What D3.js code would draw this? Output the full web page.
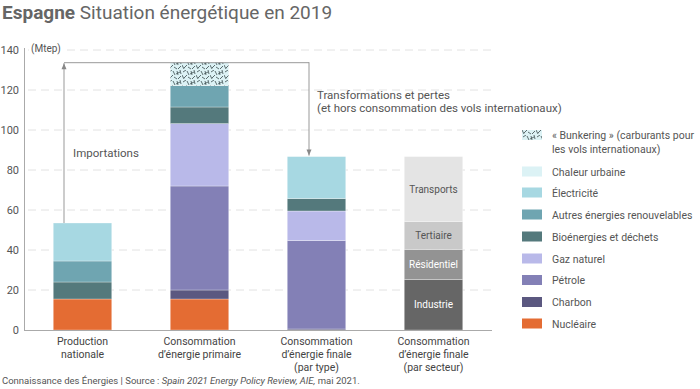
<!DOCTYPE html>
<html>
<head>
<meta charset="utf-8">
<script src="https://cdn.jsdelivr.net/npm/d3@7"></script>
<style>
  body { margin: 0; background: #fff; }
  svg text { font-family: Roboto, "Open Sans", sans-serif; }
</style>
</head>
<body>
<div id="chart"></div>
<script>
// bars (Mtep)
var categories = ["prod", "prim", "finType", "finSect"]
var catLabels = [
  ["Production", "nationale"],
  ["Consommation", "d\u2019\u00e9nergie primaire"],
  ["Consommation", "d\u2019\u00e9nergie finale", "(par type)"],
  ["Consommation", "d\u2019\u00e9nergie finale", "(par secteur)"]
]
var nucleaire   = [15.5, 15.5, 0, 0]
var charbon     = [0, 4.5, 0.5, 0]
var petrole     = [0, 52, 44.2, 0]
var gaz         = [0, 31.2, 14.8, 0]
var bio         = [8.5, 8.3, 6.2, 0]
var autres      = [10.5, 10.7, 0, 0]
var electricite = [19, 0, 21, 0]
var chaleur     = [0, 0, 0, 0]
var bunkering   = [0, 11.7, 0, 0]
var industrie   = [0, 0, 0, 25.3]
var residentiel = [0, 0, 0, 15]
var tertiaire   = [0, 0, 0, 13.9]
var transports  = [0, 0, 0, 32.5]

var yTicks = [0, 20, 40, 60, 80, 100, 120, 140]

var keys = ["nucleaire","charbon","petrole","gaz","bio","autres","electricite","chaleur","bunkering",
            "industrie","residentiel","tertiaire","transports"]
var series = {nucleaire:nucleaire, charbon:charbon, petrole:petrole, gaz:gaz, bio:bio, autres:autres,
  electricite:electricite, chaleur:chaleur, bunkering:bunkering, industrie:industrie,
  residentiel:residentiel, tertiaire:tertiaire, transports:transports}
var colors = {
  nucleaire: "#e46c33", charbon: "#5b5880", petrole: "#8380b6", gaz: "#b9b9e9",
  bio: "#54797c", autres: "#6fa5b1", electricite: "#a7d8e2", chaleur: "#dcf2f5",
  bunkering: "url(#hatch)", industrie: "#666666", residentiel: "#939393",
  tertiaire: "#c9c9c9", transports: "#e4e4e4"
}
var sectorNames = {industrie: "Industrie", residentiel: "R\u00e9sidentiel", tertiaire: "Tertiaire", transports: "Transports"}
var legendItems = [
  ["bunkering", ["\u00ab Bunkering \u00bb (carburants pour", "les vols internationaux)"]],
  ["chaleur", ["Chaleur urbaine"]],
  ["electricite", ["\u00c9lectricit\u00e9"]],
  ["autres", ["Autres \u00e9nergies renouvelables"]],
  ["bio", ["Bio\u00e9nergies et d\u00e9chets"]],
  ["gaz", ["Gaz naturel"]],
  ["petrole", ["P\u00e9trole"]],
  ["charbon", ["Charbon"]],
  ["nucleaire", ["Nucl\u00e9aire"]]
]

var width = 700, height = 389

var svg = d3.select("#chart").append("svg")
  .attr("width", width).attr("height", height)

// hatch pattern for bunkering
var defs = svg.append("defs")
var pat = defs.append("pattern").attr("id", "hatch")
  .attr("patternUnits", "userSpaceOnUse").attr("width", 14).attr("height", 10)
pat.append("rect").attr("width", 14).attr("height", 10).attr("fill", "#dcf2f5")
var strokes = [[1,2,4,0],[5,1,7,5],[8,4,12,2],[2,8,5,5],[10,9,13,6],[9,1,10,5],[0,5,2,9],[6,7,9,9],[12,0,13,4]]
strokes.forEach(function(s){
  pat.append("line").attr("x1", s[0]).attr("y1", s[1]).attr("x2", s[2]).attr("y2", s[3])
    .attr("stroke", "#3a4a4c").attr("stroke-width", 0.8)
})

var x = d3.scaleBand().domain(categories).range([24, 492]).paddingInner(0.5).paddingOuter(0.25)
var y = d3.scaleLinear().domain([0, 140]).range([330, 50])

// title
var title = svg.append("text").attr("x", 2).attr("y", 19).attr("fill", "#666").style("font-size", "19px")
title.append("tspan").attr("font-weight", "bold").text("Espagne")
title.append("tspan").text(" Situation \u00e9nerg\u00e9tique en 2019")

// grid
svg.append("g").selectAll("line").data(yTicks.filter(function(d){ return d > 0 }))
  .enter().append("line")
  .attr("x1", 28).attr("x2", 492)
  .attr("y1", function(d){ return y(d) }).attr("y2", function(d){ return y(d) })
  .attr("stroke", "#e2e2e2").attr("stroke-dasharray", "8,5")

// y labels
svg.append("g").selectAll("text").data(yTicks).enter().append("text")
  .attr("x", 19).attr("y", function(d){ return y(d) + 4 })
  .attr("text-anchor", "end").attr("fill", "#555").style("font-size", "11px")
  .text(function(d){ return d })
svg.append("rect").attr("x", 29).attr("y", 42).attr("width", 34).attr("height", 14).attr("fill", "#fff")
svg.append("text").attr("x", 31).attr("y", 52).attr("fill", "#555").style("font-size", "10px").text("(Mtep)")

// stacked bars
var table = categories.map(function(c, i){
  var row = {cat: c}
  keys.forEach(function(k){ row[k] = series[k][i] })
  return row
})
var stacked = d3.stack().keys(keys)(table)

var layers = svg.append("g").selectAll("g").data(stacked).enter().append("g")
  .attr("fill", function(d){ return colors[d.key] })
layers.selectAll("rect").data(function(d){ return d.filter(function(p){ return p[1] - p[0] > 0 }) })
  .enter().append("rect")
  .attr("x", function(d){ return x(d.data.cat) })
  .attr("width", x.bandwidth())
  .attr("y", function(d){ return y(d[1]) })
  .attr("height", function(d){ return y(d[0]) - y(d[1]) })
  .attr("stroke", "#fff").attr("stroke-opacity", 0.5).attr("stroke-width", 0.6)

// sector labels
stacked.filter(function(s){ return sectorNames[s.key] }).forEach(function(s){
  var p = s[3]
  svg.append("text")
    .attr("x", x(p.data.cat) + x.bandwidth() / 2)
    .attr("y", (y(p[0]) + y(p[1])) / 2 + 3.5)
    .attr("text-anchor", "middle").style("font-size", "10px")
    .attr("fill", (s.key == "industrie" || s.key == "residentiel") ? "#fff" : "#555")
    .text(sectorNames[s.key])
})

// axes lines
svg.append("line").attr("x1", 24.5).attr("x2", 24.5).attr("y1", 48).attr("y2", 330).attr("stroke", "#aaa")
svg.append("line").attr("x1", 24).attr("x2", 492).attr("y1", 330.5).attr("y2", 330.5).attr("stroke", "#aaa")

// x labels
catLabels.forEach(function(lines, i){
  var t = svg.append("text").attr("text-anchor", "middle").attr("fill", "#444").style("font-size", "10.5px")
    .attr("x", x(categories[i]) + x.bandwidth() / 2).attr("y", 345)
  lines.forEach(function(l, j){
    t.append("tspan").attr("x", x(categories[i]) + x.bandwidth() / 2).attr("dy", j == 0 ? 0 : 13).text(l)
  })
})

// annotations
var totals = table.map(function(r){ return d3.sum(keys, function(k){ return r[k] }) })
var topY = y(totals[1])
var ax1 = 64, ax2 = 309
var ann = svg.append("g").attr("stroke", "#999").attr("fill", "none")
ann.append("line").attr("x1", ax1).attr("x2", ax1).attr("y1", y(totals[0])).attr("y2", topY + 1)
ann.append("line").attr("x1", ax1).attr("x2", ax2).attr("y1", topY + 0.5).attr("y2", topY + 0.5)
ann.append("line").attr("x1", ax2).attr("x2", ax2).attr("y1", topY).attr("y2", y(totals[2]) - 1)
svg.append("path").attr("fill", "#888")
  .attr("d", "M" + ax1 + "," + (topY + 1) + "l-2.5,6h5z")
svg.append("path").attr("fill", "#888")
  .attr("d", "M" + ax2 + "," + (y(totals[2]) - 1) + "l-2.5,-6h5z")

svg.append("text").attr("x", 73).attr("y", 157).attr("fill", "#555").style("font-size", "11.5px").text("Importations")
svg.append("text").attr("x", 317).attr("y", 99).attr("fill", "#555").style("font-size", "11.5px").text("Transformations et pertes")
svg.append("text").attr("x", 317).attr("y", 112).attr("fill", "#555").style("font-size", "11.5px").text("(et hors consommation des vols internationaux)")

// legend
var legY = [135, 171.5, 192.5, 214.5, 236.5, 258.5, 280, 302, 323.5]
var leg = svg.append("g").selectAll("g").data(legendItems).enter().append("g")
  .attr("transform", function(d, i){ return "translate(522," + legY[i] + ")" })
leg.append("rect").attr("x", 0).attr("y", -5).attr("width", 20).attr("height", 10)
  .attr("fill", function(d){ return colors[d[0]] })
leg.append("text").attr("x", 30).attr("y", 4).attr("fill", "#555").style("font-size", "10.5px")
  .each(function(d){
    var t = d3.select(this)
    d[1].forEach(function(l, j){
      t.append("tspan").attr("x", 30).attr("dy", j == 0 ? 0 : 14).text(l)
    })
  })

// source
var src = svg.append("text").attr("x", 2).attr("y", 384).attr("fill", "#555").style("font-size", "9.5px")
src.append("tspan").text("Connaissance des \u00c9nergies | Source : ")
src.append("tspan").attr("font-style", "italic").text("Spain 2021 Energy Policy Review, AIE,")
src.append("tspan").text(" mai 2021.")
</script>
</body>
</html>
